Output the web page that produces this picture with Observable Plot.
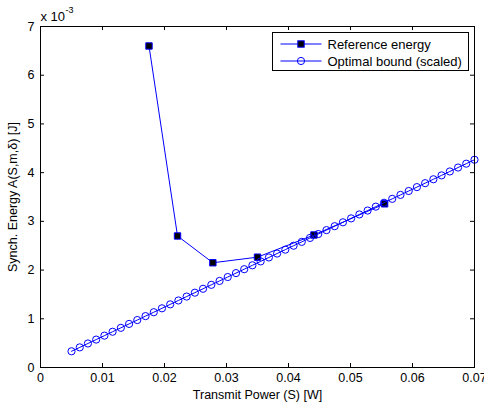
<!DOCTYPE html>
<html><head><meta charset="utf-8">
<script src="https://cdn.jsdelivr.net/npm/d3@7"></script>
<script src="https://cdn.jsdelivr.net/npm/@observablehq/plot@0.6"></script>
<style>
body{margin:0;background:#fff}
#chart{width:484px;height:407px}
</style>
</head><body><div id="chart"></div>
<script>
// Reference energy (x 10^-3 J) vs transmit power (W)
const refPower = [0.0175, 0.0221, 0.0278, 0.0350, 0.0441, 0.0555];
const refEnergy = [6.60, 2.70, 2.15, 2.265, 2.72, 3.36];

// Optimal bound (scaled), x 10^-3 J
const boundPower = [0.00500,0.00633,0.00765,0.00898,0.01031,0.01163,0.01296,0.01429,0.01561,0.01694,
  0.01827,0.01959,0.02092,0.02224,0.02357,0.02490,0.02622,0.02755,0.02888,0.03020,
  0.03153,0.03286,0.03418,0.03551,0.03684,0.03816,0.03949,0.04082,0.04214,0.04347,
  0.04480,0.04612,0.04745,0.04878,0.05010,0.05143,0.05276,0.05408,0.05541,0.05673,
  0.05806,0.05939,0.06071,0.06204,0.06337,0.06469,0.06602,0.06735,0.06867,0.07000];
const boundEnergy = [0.333,0.413,0.493,0.573,0.654,0.734,0.814,0.895,0.974,1.055,
  1.135,1.215,1.296,1.376,1.456,1.536,1.616,1.697,1.777,1.857,
  1.938,2.018,2.098,2.178,2.259,2.339,2.419,2.500,2.579,2.660,
  2.740,2.820,2.901,2.981,3.061,3.142,3.222,3.302,3.382,3.462,
  3.543,3.623,3.703,3.784,3.864,3.944,4.024,4.105,4.184,4.265];

const xTicks = [0, 0.01, 0.02, 0.03, 0.04, 0.05, 0.06, 0.07];
const xTickLabels = ["0", "0.01", "0.02", "0.03", "0.04", "0.05", "0.06", "0.07"];
const yTicks = [0, 1, 2, 3, 4, 5, 6, 7];
const yTickLabels = ["0", "1", "2", "3", "4", "5", "6", "7"];
const seriesNames = ["Reference energy", "Optimal bound (scaled)"];
const xLabel = "Transmit Power (S) [W]";
const yLabel = "Synch. Energy A(S,m,δ) [J]";
const multiplierBase = "x 10";
const multiplierExp = "-3";

const refData = refPower.map((x, i) => ({x, y: refEnergy[i]}));
const boundData = boundPower.map((x, i) => ({x, y: boundEnergy[i]}));

const W = 484, H = 407, mL = 40, mR = 10, mT = 26, mB = 40;
const innerW = W - mL - mR, innerH = H - mT - mB, tickLen = 4;
const BLUE = "#0000ff";
const FONT = '"Liberation Sans", Arial, Helvetica, sans-serif';

const chart = Plot.plot({
  width: W, height: H,
  marginLeft: mL, marginRight: mR, marginTop: mT, marginBottom: mB,
  style: {fontFamily: FONT, fontSize: "12.5px", color: "#000", background: "#fff", overflow: "visible"},
  x: {domain: [0, 0.07]},
  y: {domain: [0, 7]},
  marks: [
    Plot.tickX(xTicks, {x: d => d, stroke: "#000", insetTop: innerH - tickLen}),
    Plot.tickX(xTicks, {x: d => d, stroke: "#000", insetBottom: innerH - tickLen}),
    Plot.tickY(yTicks, {y: d => d, stroke: "#000", insetRight: innerW - tickLen}),
    Plot.tickY(yTicks, {y: d => d, stroke: "#000", insetLeft: innerW - tickLen}),
    Plot.axisX(xTicks, {tickSize: 0, tickPadding: 6, tickFormat: d => xTickLabels[xTicks.indexOf(d)],
      label: xLabel, labelAnchor: "center", labelArrow: "none", labelOffset: 31, fontSize: 12.5}),
    Plot.axisY(yTicks, {tickSize: 0, tickPadding: 6, tickFormat: d => yTickLabels[yTicks.indexOf(d)],
      label: yLabel, labelAnchor: "center", labelArrow: "none", labelOffset: 32, fontSize: 12.5}),
    Plot.line(refData, {x: "x", y: "y", stroke: BLUE, strokeWidth: 1}),
    Plot.dot(refData, {x: "x", y: "y", symbol: "square", r: 3.6, fill: "#000", stroke: BLUE, strokeWidth: 1}),
    Plot.line(boundData, {x: "x", y: "y", stroke: BLUE, strokeWidth: 1}),
    Plot.dot(boundData, {x: "x", y: "y", r: 3.6, fill: "none", stroke: BLUE, strokeWidth: 1}),
    Plot.frame({stroke: "#000", strokeWidth: 1}),
    Plot.text([multiplierBase], {text: d => d, frameAnchor: "top-left", textAnchor: "start", lineAnchor: "bottom", dy: -6, fontSize: 13}),
    Plot.text([multiplierExp], {text: d => d, frameAnchor: "top-left", textAnchor: "start", lineAnchor: "bottom", dx: 25, dy: -13.5, fontSize: 9})
  ]
});
document.getElementById("chart").appendChild(chart);

// Legend box inside the axes (top-right)
const svg = d3.select(chart);
const lg = svg.append("g").attr("transform", "translate(272.5,32.5)")
  .attr("font-family", FONT).attr("font-size", 13).attr("text-anchor", "start");
lg.append("rect").attr("width", 196).attr("height", 38).attr("fill", "#fff").attr("stroke", "#000");
const rows = [11.5, 28.5];
seriesNames.forEach((name, i) => {
  const y = rows[i];
  lg.append("line").attr("x1", 8).attr("x2", 49).attr("y1", y).attr("y2", y)
    .attr("stroke", BLUE).attr("stroke-width", 1);
  if (i === 0) {
    lg.append("rect").attr("x", 28.5 - 3.2).attr("y", y - 3.2).attr("width", 6.4).attr("height", 6.4)
      .attr("fill", "#000").attr("stroke", BLUE);
  } else {
    lg.append("circle").attr("cx", 28.5).attr("cy", y).attr("r", 3.6).attr("fill", "none").attr("stroke", BLUE);
  }
  lg.append("text").attr("x", 55).attr("y", y).attr("dy", "0.35em").attr("fill", "#000")
    .attr("text-anchor", "start").text(name);
});
</script>
</body></html>
